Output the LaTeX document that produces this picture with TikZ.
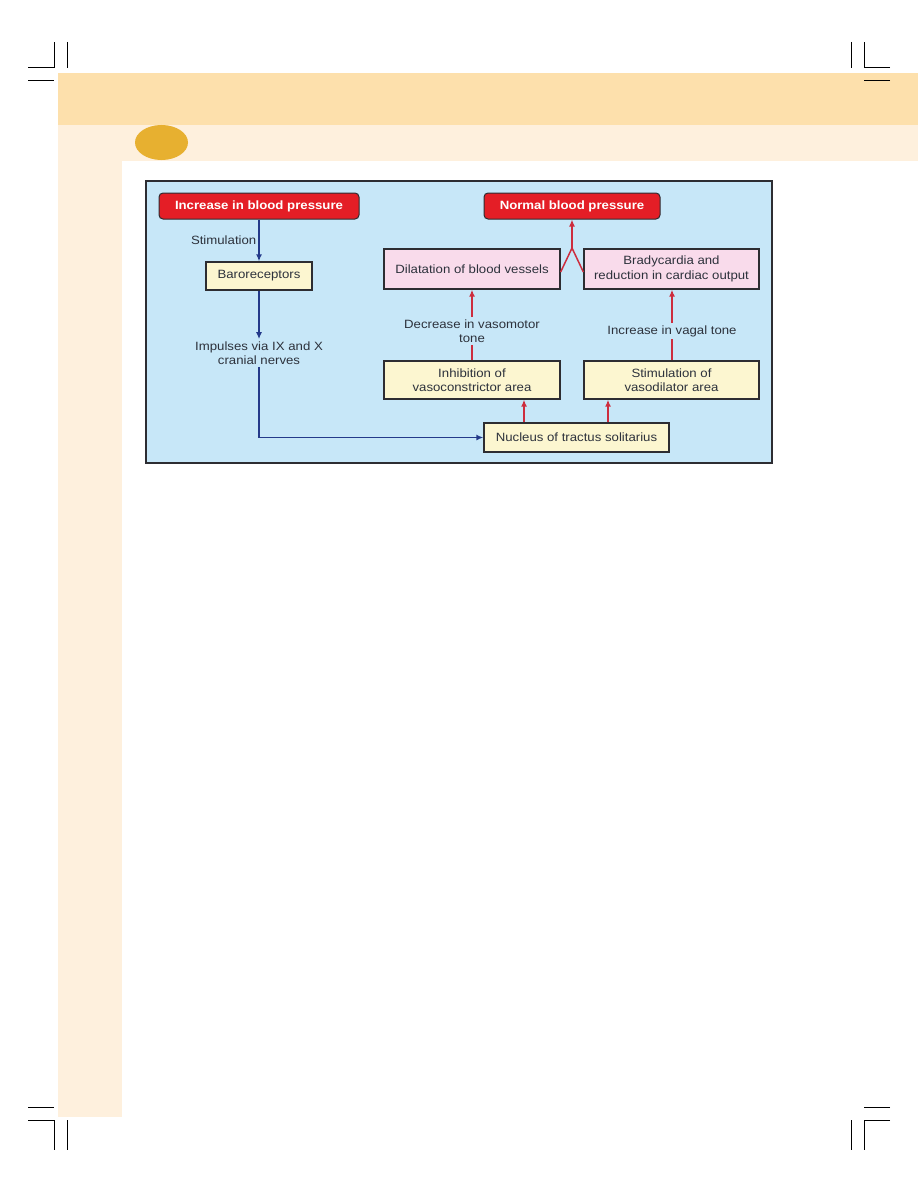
\documentclass[tikz,border=0pt]{standalone}
\usepackage{fontspec}
\setmainfont{Liberation Sans}[FakeStretch=1.1]
\usetikzlibrary{arrows.meta}

\definecolor{bandpeach}{RGB}{253,224,172}
\definecolor{paleband}{RGB}{254,240,221}
\definecolor{goldspot}{RGB}{231,176,48}
\definecolor{skyback}{RGB}{199,231,248}
\definecolor{alarmred}{RGB}{228,30,38}
\definecolor{boxyellow}{RGB}{252,246,208}
\definecolor{boxpink}{RGB}{249,219,235}
\definecolor{navyline}{RGB}{36,58,138}
\definecolor{redline}{RGB}{205,45,62}
\definecolor{inktext}{RGB}{45,50,60}
\definecolor{edgegray}{RGB}{45,45,50}

\tikzset{
  redbox/.style={draw=edgegray,line width=1pt,fill=alarmred,rounded corners=4pt,text=white,font=\fontsize{12}{14}\selectfont\bfseries,inner sep=0pt},
  yellowbox/.style={draw=edgegray,line width=1.3pt,fill=boxyellow,text=inktext,align=center,font=\fontsize{12}{14.5}\selectfont,inner sep=0pt},
  pinkbox/.style={draw=edgegray,line width=1.3pt,fill=boxpink,text=inktext,align=center,font=\fontsize{12}{14.5}\selectfont,inner sep=0pt},
  lbl/.style={text=inktext,align=center,font=\fontsize{12}{14.5}\selectfont,inner sep=2pt},
  blueflow/.style={draw=navyline,line width=1.4pt},
  redflow/.style={draw=redline,line width=1.5pt},
  crop/.style={line width=1pt}
}

\begin{document}
\begin{tikzpicture}[x=1pt,y=-1pt,>={Latex[length=7pt,width=6pt]}]
  \useasboundingbox (0,0) rectangle (918,1188);
  \fill[white] (0,0) rectangle (918,1188);
  \fill[bandpeach] (58,73) rectangle (918,125);
  \fill[paleband] (58,125) rectangle (918,161);
  \fill[paleband] (58,161) rectangle (122,1117);
  \fill[goldspot] (161.5,142.5) ellipse (26.5 and 17.5);

  \draw[crop] (28,68) -- (54,68) -- (54,42);
  \draw[crop] (67,42) -- (67,68);
  \draw[crop] (28,81) -- (54,81);
  \draw[crop] (890,68) -- (864,68) -- (864,42);
  \draw[crop] (851,42) -- (851,68);
  \draw[crop] (890,81) -- (864,81);
  \draw[crop] (28,1107) -- (54,1107);
  \draw[crop] (28,1120) -- (54,1120) -- (54,1150);
  \draw[crop] (67,1120) -- (67,1150);
  \draw[crop] (890,1107) -- (864,1107);
  \draw[crop] (890,1120) -- (864,1120) -- (864,1150);
  \draw[crop] (851,1120) -- (851,1150);

  \draw[fill=skyback,draw=edgegray,line width=1.2pt] (146,181) rectangle (772,463);

  \node[redbox,minimum width=200pt,minimum height=26pt] (increase) at (259,206) {Increase in blood pressure};
  \node[yellowbox,minimum width=106pt,minimum height=28pt] (baro) at (259,276) {Baroreceptors};
  \node[lbl] (impulses) at (259,353) {Impulses via IX and X\\cranial nerves};
  \node[redbox,minimum width=176pt,minimum height=26pt] (normal) at (572,206) {Normal blood pressure};
  \node[pinkbox,minimum width=176pt,minimum height=40pt] (dilat) at (472,269) {Dilatation of blood vessels};
  \node[pinkbox,minimum width=175pt,minimum height=40pt] (brady) at (671.5,269) {Bradycardia and\\reduction in cardiac output};
  \node[lbl] (vasotone) at (472,331) {Decrease in vasomotor\\tone};
  \node[lbl] (vagal) at (672,331) {Increase in vagal tone};
  \node[yellowbox,minimum width=176pt,minimum height=38pt] (inhib) at (472,380) {Inhibition of\\vasoconstrictor area};
  \node[yellowbox,minimum width=175pt,minimum height=38pt] (stimul) at (671.5,380) {Stimulation of\\vasodilator area};
  \node[yellowbox,minimum width=185pt,minimum height=29pt] (nucleus) at (576.5,437.5) {Nucleus of tractus solitarius};
  \coordinate (join) at (572,248);

  \draw[blueflow,->] (increase) -- node[lbl,left] {Stimulation} (baro);
  \draw[blueflow,->] (baro) -- (impulses);
  \draw[blueflow,->] (impulses) |- (nucleus);
  \draw[redflow,->] ([xshift=-52.5pt]nucleus.north) -- ([xshift=-52.5pt]nucleus.north |- inhib.south);
  \draw[redflow,->] ([xshift=31.5pt]nucleus.north) -- ([xshift=31.5pt]nucleus.north |- stimul.south);
  \draw[redflow] (inhib) -- (vasotone);
  \draw[redflow,->] (vasotone) -- (dilat);
  \draw[redflow] ([xshift=0.5pt]stimul.north) -- (vagal);
  \draw[redflow,->] (vagal) -- ([xshift=0.5pt]brady.south);
  \draw[redflow] ([yshift=-3pt]dilat.east) -- (join);
  \draw[redflow] ([yshift=-3pt]brady.west) -- (join);
  \draw[redflow,->] (join) -- (normal);
\end{tikzpicture}
\end{document}
